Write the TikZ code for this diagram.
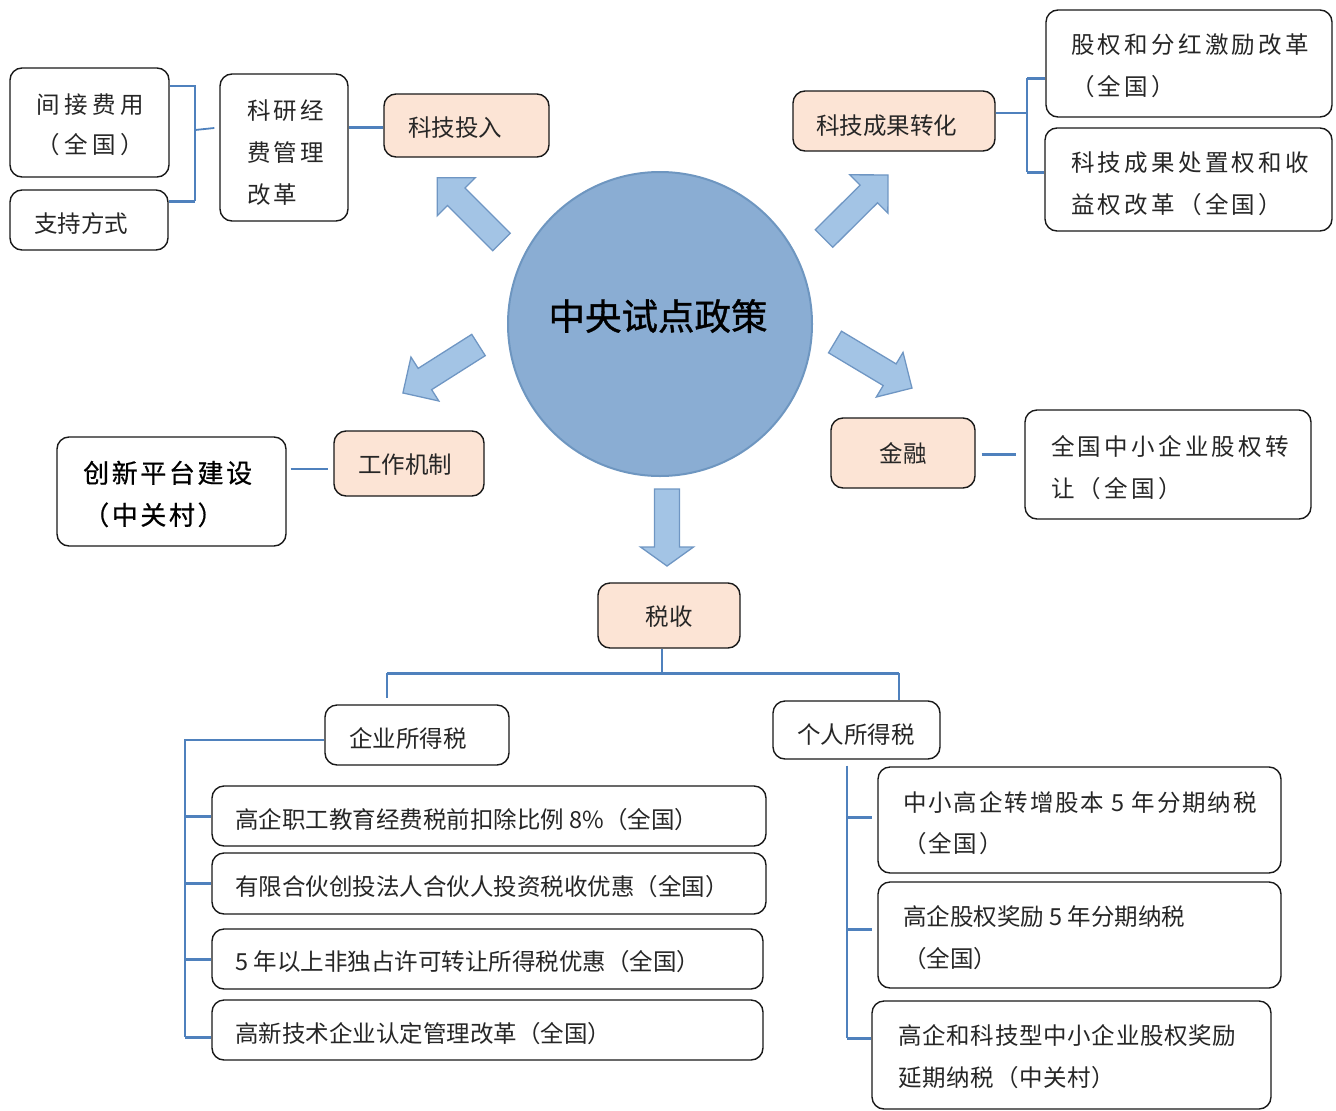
\documentclass[tikz,border=0pt]{standalone}
\usepackage{fontspec}
\setmainfont{Noto Sans CJK SC}
\usetikzlibrary{calc}
\definecolor{peach}{RGB}{252,228,213}
\definecolor{lnblue}{RGB}{79,129,189}
\definecolor{arfill}{RGB}{163,196,229}
\definecolor{ardraw}{RGB}{111,150,195}
\definecolor{cfill}{RGB}{138,173,211}
\definecolor{cdraw}{RGB}{110,150,192}
\definecolor{txtc}{RGB}{38,38,38}
\newcommand\mkbox[6]{\node[#6, minimum width={(#4)-(#2)}, minimum height={(#5)-(#3)}] (#1) at ({((#2)+(#4))/2},{((#3)+(#5))/2}) {};}
\newcommand\barrow[7]{%
\begin{scope}[shift={(#1,#2)},rotate=#3]
\filldraw[arr] (0,#7) -- ({#4-#5},#7) -- ({#4-#5},#6) -- (#4,0) -- ({#4-#5},-#6) -- ({#4-#5},-#7) -- (0,-#7) -- cycle;
\end{scope}}
\begin{document}
\begin{tikzpicture}[x=1pt,y=-1pt,
  box/.style={draw=black!90, line width=1.4pt, rounded corners=12pt, fill=white, inner sep=0pt},
  pbox/.style={box, fill=peach},
  txt/.style={inner sep=0pt, anchor=west, align=left, text=txtc, font=\fontsize{23.5}{42}\selectfont},
  ctxt/.style={txt, anchor=center},
  spc/.style={font=\fontsize{23.5}{42}\selectfont\addfontfeature{LetterSpace=14}},
  spw/.style={font=\fontsize{23.5}{40}\selectfont\addfontfeature{LetterSpace=20}},
  conn/.style={draw=lnblue, line width=1.8pt},
  connT/.style={draw=lnblue, line width=3pt},
  arr/.style={fill=arfill, draw=ardraw, line width=1.3pt, line join=miter}]
\useasboundingbox (0,0) rectangle (1336,1111);

% block arrows
\barrow{501.5}{242}{135}{91}{27}{27}{12.4}
\barrow{824}{238.5}{44.8}{90.2}{27}{27}{12.4}
\barrow{478.5}{345}{212.4}{89.5}{26}{26}{12.6}
\barrow{835}{342}{-30.9}{89.7}{26}{26}{12.6}
\barrow{667}{489}{-90}{77}{19}{26.5}{12.5}

% central circle
\node[circle, draw=cdraw, fill=cfill, line width=2pt, minimum size=304pt, inner sep=0pt] (c) at (660,324) {};
\node[inner sep=0pt, text=black, font=\fontsize{36.5}{40}\selectfont\addfontfeature{FakeBold=1}] (ct) at (658,316) {中央试点政策};

% boxes
\mkbox{b1}{10}{68}{169}{177}{box}
\mkbox{b2}{10}{190}{168}{250}{box}
\mkbox{b3}{220}{74}{348}{221}{box}
\mkbox{b4}{384}{94}{549}{157}{pbox}
\mkbox{b5}{793}{91}{995}{151}{pbox}
\mkbox{b6}{1046}{10}{1332}{117}{box}
\mkbox{b7}{1045}{128}{1332}{231}{box}
\mkbox{b8}{334}{431}{484}{496}{pbox}
\mkbox{b9}{57}{437}{286}{546}{box}
\mkbox{b10}{831}{418}{975}{488}{pbox}
\mkbox{b11}{1025}{410}{1311}{519}{box}
\mkbox{b12}{598}{583}{740}{648}{pbox}
\mkbox{b13}{325}{705}{509}{765}{box}
\mkbox{b14}{773}{701}{940}{759}{box}
\mkbox{b15}{212}{786}{766}{846}{box}
\mkbox{b16}{212}{853}{766}{914}{box}
\mkbox{b17}{212}{929}{763}{989}{box}
\mkbox{b18}{212}{1000}{763}{1060}{box}
\mkbox{b19}{878}{767}{1281}{873}{box}
\mkbox{b20}{878}{882}{1281}{988}{box}
\mkbox{b21}{872}{1001}{1271}{1109}{box}

% texts
\node[txt, spw] (t1) at (36,125) {间接费用\\（全国）};
\node[txt] (t2) at (34,224) {支持方式};
\node[txt, spc] (t3) at (247,153) {科研经\\费管理\\改革};
\node[txt] (t4) at (408,128) {科技投入};
\node[txt] (t5) at (816,126) {科技成果转化};
\node[txt, spc] (t6) at (1071,66) {股权和分红激励改革\\（全国）};
\node[txt, spc] (t7) at (1071,184) {科技成果处置权和收\\益权改革（全国）};
\node[txt] (t8) at (358,465) {工作机制};
\node[txt, text=black, font=\fontsize{26}{42}\selectfont\addfontfeature{LetterSpace=10,FakeBold=0.6}] (t9) at (83,494) {创新平台建设\\（中关村）};
\node[ctxt] (t10) at (903,453) {金融};
\node[txt, spc] (t11) at (1051,468) {全国中小企业股权转\\让（全国）};
\node[ctxt] (t12) at (669,617) {税收};
\node[txt] (t13) at (349,738) {企业所得税};
\node[txt] (t14) at (797,735) {个人所得税};
\node[txt] (t15) at (235,820) {高企职工教育经费税前扣除比例 8\%（全国）};
\node[txt] (t16) at (235,887) {有限合伙创投法人合伙人投资税收优惠（全国）};
\node[txt] (t17) at (235,962) {5 年以上非独占许可转让所得税优惠（全国）};
\node[txt] (t18) at (235,1034) {高新技术企业认定管理改革（全国）};
\node[txt, font=\fontsize{23.5}{41}\selectfont\addfontfeature{LetterSpace=8}] (t19) at (903,823.5) {中小高企转增股本 5 年分期纳税\\（全国）};
\node[txt] (t20) at (903,938) {高企股权奖励 5 年分期纳税\\（全国）};
\node[txt, font=\fontsize{23.5}{42}\selectfont\addfontfeature{LetterSpace=3}] (t21) at (898,1057) {高企和科技型中小企业股权奖励\\延期纳税（中关村）};

% connectors: 科研经费 bracket
\coordinate (s1a) at (195,86);
\coordinate (s1b) at (195,201);
\coordinate (s1m) at (195,130);
\draw[conn] (s1a -| b1.east) -- (s1a) -- (s1b);
\draw[connT] (s1b) -- (s1b -| b2.east);
\draw[conn] (s1m) -- ([xshift=-5pt,yshift=2pt]b3.west |- s1m);
\coordinate (y127) at (0,127);
\draw[connT] (b3.east |- y127) -- (b4.west |- y127);

% 科技成果转化 bracket
\coordinate (s2a) at (1027,78);
\coordinate (s2b) at (1027,172);
\coordinate (s2m) at (1027,113);
\draw[conn] (b5.east |- s2m) -- (s2m);
\draw[conn] (s2a) -- (s2b);
\draw[connT] (s2a) -- (s2a -| b6.west);
\draw[connT] (s2b) -- (s2b -| b7.west);

% 工作机制
\coordinate (y469) at (0,469);
\draw[conn, shorten <=4pt, shorten >=5pt] (b9.east |- y469) -- (b8.west |- y469);

% 金融
\coordinate (y454) at (0,454);
\draw[connT, shorten <=6pt, shorten >=8pt] (b10.east |- y454) -- (b11.west |- y454);

% tax tree
\coordinate (tx) at (662,673);
\coordinate (tl) at (387,673);
\coordinate (tr) at (899,673);
\draw[conn] (b12.south -| tx) -- (tx);
\draw[connT] (tl) -- (tr);
\draw[conn, shorten >=6pt] (tl) -- (tl |- b13.north);
\draw[conn] (tr) -- (tr |- b14.north);

% enterprise income tax
\coordinate (la) at (185,740);
\coordinate (lb) at (185,1037);
\draw[conn] (b13.west |- la) -- (la) -- (lb);
\draw[connT] (la |- b15.west) -- (b15.west);
\draw[connT] (la |- b16.west) -- (b16.west);
\draw[connT] (la |- b17.west) -- (b17.west);
\draw[connT] (lb) -- (lb -| b18.west);

% individual income tax
\coordinate (ra) at (847,765);
\coordinate (r1) at (847,817);
\coordinate (r2) at (847,929);
\coordinate (rb) at (847,1038);
\draw[conn, shorten <=6pt] (b14.south -| ra) -- (rb);
\draw[connT, shorten >=5pt] (r1) -- (r1 -| b19.west);
\draw[connT, shorten >=5pt] (r2) -- (r2 -| b20.west);
\draw[connT] (rb) -- (rb -| b21.west);
\end{tikzpicture}
\end{document}
